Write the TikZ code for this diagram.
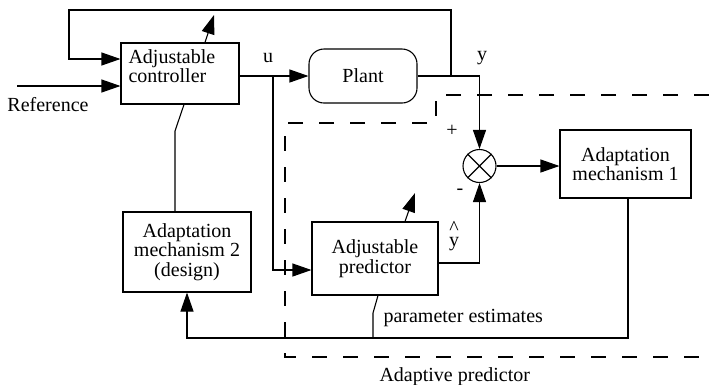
\documentclass[tikz,border=0pt]{standalone}
\usepackage{fontspec}
\setmainfont{Liberation Serif}
\usetikzlibrary{arrows.meta}
\begin{document}
\begin{tikzpicture}[x=1pt,y=-1pt,
  font=\fontsize{20}{19.5}\selectfont,
  line width=1.1pt,
  blk/.style={draw, line width=1.1pt, inner sep=0pt, align=center},
  arr/.style={-{Triangle[length=19pt,width=13pt]}},
  dsh/.style={dash pattern=on 15pt off 16pt},
  lbl/.style={inner sep=0pt}]
\useasboundingbox (0,0) rectangle (709,384);

% blocks
\node[blk, minimum width=118pt, minimum height=61pt] (ctrl) at (180,73.5) {};
\node[lbl, align=left, anchor=north west] (ctrltxt) at (128,49) {Adjustable\\controller};
\node[blk, rounded corners=15pt, minimum width=108pt, minimum height=54pt] (plant) at (363,76) {Plant};
\node[blk, minimum width=131pt, minimum height=68pt] (am1) at (625.5,164) {Adaptation\\mechanism 1};
\node[blk, minimum width=128pt, minimum height=80pt] (am2) at (187,252) {Adaptation\\mechanism 2\\(design)};
\node[blk, minimum width=126pt, minimum height=73pt] (pred) at (375,258.5) {Adjustable\\predictor};
\node[draw, circle, minimum size=33pt, inner sep=0pt] (sum) at (479.5,166) {};
\draw (sum.north west) -- (sum.south east) (sum.north east) -- (sum.south west);

% coordinates
\coordinate (ref) at (17,86);
\coordinate (uj) at (273,76);
\coordinate (yj) at (451,76);
\coordinate (ctop) at (69,10);
\coordinate (cadj) at (214,15);
\coordinate (ck) at (175,131);
\coordinate (padj) at (415,193);
\coordinate (pk) at (373,313);
\coordinate (pb) at (373,338);

% connectors
\draw[arr] (ref) -- ([yshift=-12.5pt]ctrl.west);
\draw[arr] (yj) |- (ctop) |- ([yshift=14.5pt]ctrl.west);
\draw[arr] ([xshift=25pt]ctrl.north) -- (cadj);
\draw ([xshift=4pt]ctrl.south) -- (ck) -- (ck |- am2.north);
\draw[arr] (ctrl.east |- plant.west) -- (plant.west);
\draw[arr] (uj) |- ([yshift=-11.5pt]pred.west);
\draw[arr] (plant.east) -| (sum.north);
\draw[arr] (sum.east) -- (sum.east -| am1.west);
\draw[arr] ([yshift=-4.5pt]pred.east) -| (sum.south);
\draw[arr] ([xshift=30pt]pred.north) -- (padj);
\draw ([xshift=3pt]pred.south) -- (pk) -- (pb);
\draw[arr] ([xshift=2.5pt]am1.south) |- (am2.south |- pb) -- (am2.south);

% dashed boundary
\draw[dsh] (709,95) -- (436,95) -- (436,123) -- (285,123) -- (285,357) -- (709,357);

% labels
\node[lbl] (reflbl) at (48,105) {Reference};
\node[lbl] (ulbl) at (268,58) {u};
\node[lbl] (ylbl) at (482,58) {y};
\node[lbl] (plus) at (452,131) {+};
\node[lbl] (minus) at (460,192) {-};
\node[lbl, anchor=base] (hat) at (454,234) {\textasciicircum};
\node[lbl, anchor=base] (yhat) at (454,246) {y};
\node[lbl, anchor=base west] (pest) at (383,322) {parameter estimates};
\node[lbl, anchor=base west] (aplbl) at (379,381) {Adaptive predictor};
\end{tikzpicture}
\end{document}
